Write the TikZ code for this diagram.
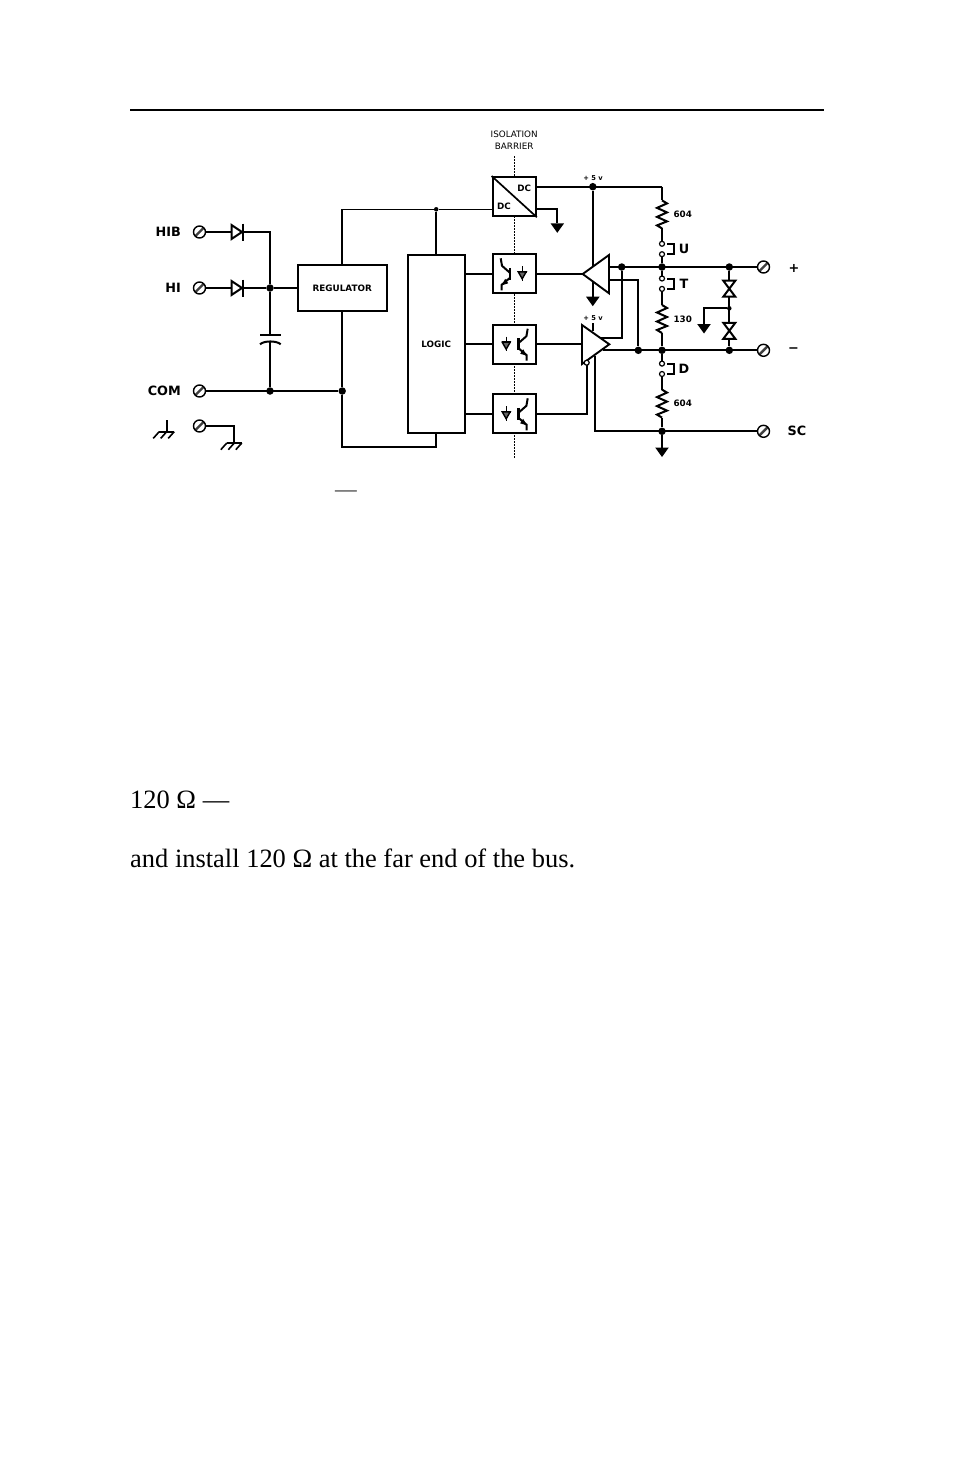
\documentclass[tikz,border=0pt]{standalone}
\usepackage{fontspec}
\setmainfont{Liberation Serif}
\newfontfamily\labelfont{DejaVu Sans}
\newcommand{\sized}[1]{\fontsize{#1}{#1}\selectfont}
\tikzset{
    wire/.style={line width=2pt},
    thinwire/.style={line width=1.5pt},
    blockbox/.style={draw, line width=1.9pt, fill=white, inner sep=0pt},
    optobox/.style={draw, line width=2.2pt, fill=white, inner sep=0pt, minimum width=43pt, minimum height=39pt},
    terminal/.style={circle, draw, line width=1.4pt, fill=white, inner sep=0pt, minimum size=12pt,
        path picture={\draw[line width=2.4pt, black!75] (path picture bounding box.south west) -- (path picture bounding box.north east);}},
    pin/.style={circle, draw, line width=1.2pt, fill=white, inner sep=0pt, minimum size=5pt},
    dot/.style={circle, fill=black, inner sep=0pt, minimum size=7.5pt},
    smalldot/.style={circle, fill=black, inner sep=0pt, minimum size=4.5pt},
    biglabel/.style={font=\labelfont\bfseries\sized{12.8}},
    boxlabel/.style={font=\labelfont\bfseries\sized{8.8}},
    tinylabel/.style={font=\labelfont\bfseries\sized{6.7}},
    barrierlabel/.style={font=\labelfont\sized{8.8}, inner sep=0pt},
    pics/diodepic/.style={code={
        \filldraw[wire, fill=white] (-5.5,-7) -- (5,0) -- (-5.5,7) -- cycle;
        \draw[wire] (5.5,-8.5) -- (5.5,8.5);
    }},
    pics/earthpic/.style={code={
        \draw[wire] (-7.5,0) -- (7.5,0);
        \foreach \h in {-7.5,0,7.5} \draw[line width=1.6pt] (\h,0) -- ++(-6,6.7);
    }},
    pics/gndarrow/.style={code={
        \fill (-6.8,0) -- (6.8,0) -- (0,9.5) -- cycle;
    }},
    pics/resistor/.style={code={
        \coordinate (-top) at (0,-14);
        \coordinate (-bot) at (0,14);
        \draw[wire] (-top) -- (5,-11) -- (-5,-6.5) -- (5,-2) -- (-5,2.5) -- (5,7) -- (-5,11) -- (-bot);
    }},
    pics/bowtie/.style={code={
        \filldraw[wire, fill=white] (-6,-8) -- (6,-8) -- (-6,8) -- (6,8) -- cycle;
    }},
    pics/phototrans/.style={code={
        \draw[wire] (-13.5,-15.5) -- (-12.2,-8) -- (-4.2,-1);
        \draw[line width=2.4pt] (-4.2,-6) -- (-4.2,6);
        \draw[wire] (-4.2,4) -- (-12.5,11) -- (-12.5,16.5);
        \fill (-12.5,11.5) -- (-6,9.5) -- (-9,5) -- cycle;
        \draw[line width=1.4pt] (8,-7.5) -- (8,7);
        \draw[wire] (3.3,-2) -- (12.7,-2);
        \filldraw[line width=1.4pt, fill=black!60] (4,-2) -- (8,5) -- (12,-2) -- cycle;
    }},
}
\begin{document}
\begin{tikzpicture}[x=1pt,y=-1pt]
    \useasboundingbox (0,0) rectangle (954,1475);
    % page rule and the text round the figure
    \coordinate (ruleL) at (130,110);
    \coordinate (ruleR) at (824,110);
    \draw[line width=2.2pt] (ruleL) -- (ruleR);
    \node[anchor=base, inner sep=0pt, text=black!85, font=\sized{21.7}] (dashtop) at (346,496) {—};
    \node[anchor=base west, inner sep=0pt, font=\sized{26.45}] (lineA) at (130,808.3) {120 Ω —};
    \node[anchor=base west, inner sep=0pt, font=\sized{26.45}] (lineB) at (130,867.5) {and install 120 Ω at the far end of the bus.};

    % isolation barrier
    \node[barrierlabel] (isoA) at (514.2,134) {ISOLATION};
    \node[barrierlabel] (isoB) at (514.2,146) {BARRIER};
    \coordinate (barTop) at (514.2,156);
    \coordinate (barBot) at (514.2,459);
    \draw[line width=1.2pt, dash pattern=on 1.5pt off 1.5pt] (barTop) -- (barBot);

    % blocks
    \node[blockbox, minimum width=89pt, minimum height=46pt, boxlabel] (reg) at (342.2,288) {REGULATOR};
    \node[blockbox, minimum width=57pt, minimum height=178pt, boxlabel] (logic) at (436.2,344) {LOGIC};
    \node[optobox] (dcdc) at (514.2,196.6) {};
    \node[optobox] (optoA) at (514.2,273.8) {};
    \node[optobox] (optoB) at (514.2,344.2) {};
    \node[optobox] (optoC) at (514.2,413.8) {};
    \draw[line width=1.7pt] (dcdc.north west) -- (dcdc.south east);
    \node[boxlabel, inner sep=0pt] (dcOut) at (524.3,188.3) {DC};
    \node[boxlabel, inner sep=0pt] (dcIn) at (504,206) {DC};
    \pic at (optoA) {phototrans};
    \pic[xscale=-1] at (optoB) {phototrans};
    \pic[xscale=-1] at (optoC) {phototrans};

    % terminals and their labels
    \foreach \n/\x/\y in {tHIB/199.5/232, tHI/199.5/288, tCOM/199.5/391, tGND/199.5/426, tPlus/763.5/267, tMinus/763.5/350.3, tSC/763.5/431.3}
        \coordinate (\n c) at (\x,\y);
    \node[biglabel, anchor=east, inner sep=0pt] (lHIB) at (181,232) {HIB};
    \node[biglabel, anchor=east, inner sep=0pt] (lHI) at (181,288) {HI};
    \node[biglabel, anchor=east, inner sep=0pt] (lCOM) at (181,391) {COM};
    \node[biglabel, inner sep=0pt] (lPlus) at (794,268) {+};
    \node[biglabel, inner sep=0pt] (lMinus) at (793.5,350.3) {−};
    \node[biglabel, inner sep=0pt] (lSC) at (797,431.3) {SC};

    % input side
    \coordinate (jHIB) at (270,232);
    \node[dot] (jHI) at (270,288) {};
    \node[dot] (jCOM) at (270,391) {};
    \node[dot] (jREG) at (342.2,391) {};
    \coordinate (capA) at (270,335.3);
    \coordinate (capB) at (270,341);
    \node[smalldot] (jLOG) at (436.2,209.3) {};
    \draw[wire] (tHIBc) -- (jHIB) -- (jHI) -- (capA);
    \draw[wire] (tHIc) -- (jHI) -- (reg.west);
    \draw[wire] (260,335.3) -- (280.7,335.3);
    \draw[wire] (260,344.3) .. controls (264,340.5) and (276.7,340.5) .. (280.7,344.3);
    \draw[wire] (capB) -- (jCOM);
    \draw[wire] (tCOMc) -- (jREG);
    \draw[thinwire] (reg.south) -- (jREG) |- (436.2,447) -- (logic.south);
    \draw[thinwire] (reg.north) |- (jLOG) -- (dcdc.west |- jLOG);
    \draw[thinwire] (jLOG) -- (logic.north);
    \pic at (237,232) {diodepic};
    \pic at (237,288) {diodepic};
    \draw[thinwire] (logic.east |- optoA) -- (optoA.west);
    \draw[thinwire] (logic.east |- optoB) -- (optoB.west);
    \draw[thinwire] (logic.east |- optoC) -- (optoC.west);

    % earth symbols
    \coordinate (earthL) at (166.7,431.7);
    \coordinate (earthR) at (234.3,443);
    \draw[wire] (166.7,420) -- (earthL);
    \pic at (earthL) {earthpic};
    \draw[wire] (tGNDc) -| (earthR);
    \pic at (earthR) {earthpic};

    % supply side
    \node[dot] (jVCC) at (592.8,186.7) {};
    \coordinate (vccR) at (662,186.7);
    \coordinate (gndD) at (557.3,209.3);
    \draw[wire] (dcdc.east |- vccR) -- (vccR);
    \draw[wire] (dcdc.east |- gndD) -- (gndD) -- (557.3,223.3);
    \pic at (557.3,223.3) {gndarrow};
    \draw[wire] (jVCC) -- (592.8,297);
    \pic at (592.8,296.7) {gndarrow};
    \node[tinylabel, inner sep=0pt] (vccA) at (593,177.7) {+ 5 v};
    \node[tinylabel, inner sep=0pt] (vccB) at (593,318) {+ 5 v};

    % resistor chain with its links
    \pic (resU) at (662,214.4) {resistor};
    \pic (resT) at (662,319) {resistor};
    \pic (resD) at (662,403.6) {resistor};
    \node[dot] (jA) at (662,267) {};
    \node[dot] (jB) at (662,350.3) {};
    \node[dot] (jC) at (662,431.3) {};
    \coordinate (gndE) at (662,447.5);
    \draw[wire] (vccR) -- (resU-top);
    \draw[wire] (resU-bot) -- (662,244);
    \draw[wire] (662,254) -- (jA) -- (662,278.3);
    \draw[wire] (662,289) -- (resT-top);
    \draw[wire] (resT-bot) -- (jB) -- (662,363.3);
    \draw[wire] (662,374.3) -- (resD-top);
    \draw[wire] (resD-bot) -- (jC) -- (gndE);
    \pic at (gndE) {gndarrow};
    \foreach \n/\y in {U/249,T/283.7,D/368.8} {
        \node[pin] (pin\n a) at (662,\y-5.2) {};
        \node[pin] (pin\n b) at (662,\y+5.2) {};
        \draw[wire] (667,\y-5.2) -- (674.2,\y-5.2) -- (674.2,\y+5.2) -- (667,\y+5.2);
        \node[biglabel, inner sep=0pt] (link\n) at (684,\y) {\n};
    }
    \node[boxlabel, inner sep=0pt] (valU) at (682.7,214.3) {604};
    \node[boxlabel, inner sep=0pt] (valT) at (682.7,319) {130};
    \node[boxlabel, inner sep=0pt] (valD) at (682.7,403.7) {604};

    % bus side wiring
    \node[dot] (jP) at (621.7,267) {};
    \node[dot] (jM) at (638.3,350.3) {};
    \node[dot] (jTp) at (729.3,267) {};
    \node[dot] (jTm) at (729.3,350.3) {};
    \node[smalldot] (jTc) at (729.3,308.3) {};
    \coordinate (rxOut) at (609,280.3);
    \coordinate (gndT) at (704,324);
    \draw[wire] (609,267) -- (tPlusc);
    \draw[wire] (rxOut) -| (jM);
    \draw[wire] (jP) |- (600,337.7);
    \draw[wire] (603,350.3) -- (tMinusc);
    \draw[wire] (595,356) |- (tSCc);
    \draw[wire] (optoA.east) -- (582.7,273.8);
    \draw[wire] (optoB.east) -- (582,344.2);
    \draw[wire] (optoC.east) -| (586.7,362.7);
    \draw[wire] (593,323) -- (593,331);
    \draw[wire] (jTp) -- (jTm);
    \draw[wire] (jTc) -| (gndT);
    \pic at (gndT) {gndarrow};
    \pic at (729.3,288.7) {bowtie};
    \pic at (729.3,330.8) {bowtie};

    % line drivers
    \filldraw[line width=1.9pt, fill=white] (582.7,274) -- (609,255) -- (609,293.3) -- cycle;
    \filldraw[line width=1.9pt, fill=white] (582,325) -- (609.3,344.3) -- (582,364) -- cycle;
    \node[pin] (enable) at (586.7,362.7) {};

    % screw terminals last so they sit over the wires
    \node[terminal] (tHIB) at (tHIBc) {};
    \node[terminal] (tHI) at (tHIc) {};
    \node[terminal] (tCOM) at (tCOMc) {};
    \node[terminal] (tGND) at (tGNDc) {};
    \node[terminal] (tPlus) at (tPlusc) {};
    \node[terminal] (tMinus) at (tMinusc) {};
    \node[terminal] (tSC) at (tSCc) {};
\end{tikzpicture}
\end{document}
